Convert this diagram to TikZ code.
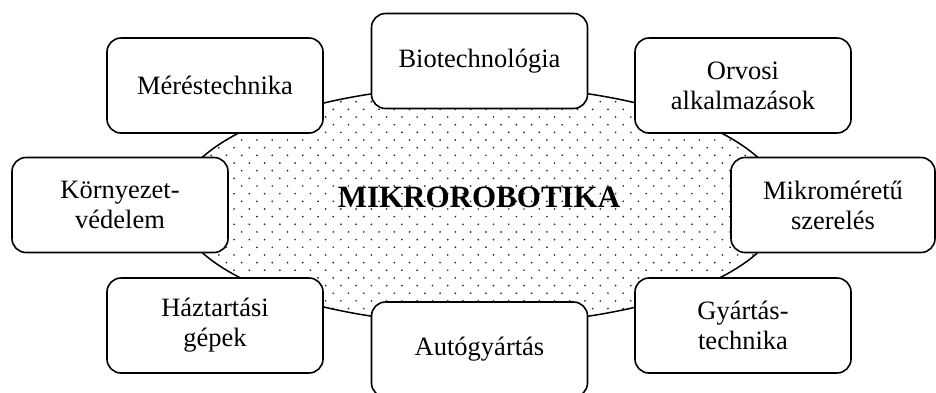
\documentclass[tikz,border=0pt]{standalone}
\usepackage{fontspec}
\setmainfont{Liberation Serif}
\usepackage{tikz}

\tikzset{
    field/.style={draw, line width=1.6pt, rounded corners=14pt, fill=white,
        minimum width=216pt, minimum height=95pt, align=center,
        font=\fontsize{26.5}{30}\selectfont},
}

\begin{document}
\begin{tikzpicture}[x=1pt,y=-1pt]
        \useasboundingbox (0,0) rectangle (936,392);
        % dotted core
        \begin{scope}
            \clip (480,205) ellipse (303 and 119);
            \foreach \j in {0,...,31} \foreach \i in {0,...,41}
                \fill[black!85] ({165.4+15.26*\i+7.63*(1-mod(\j,2))},{86.4+7.66*\j}) circle (0.95);
        \end{scope}
        \draw[line width=1.5pt] (480,205) ellipse (303 and 119);
        \node[font=\fontsize{31}{34}\selectfont\bfseries, anchor=base] (core) at (479,207) {MIKROROBOTIKA};
        % application fields
        \node[field] (meres) at (215,85.5) {Méréstechnika};
        \node[field] (bio) at (479.5,61) {Biotechnológia};
        \node[field] (orvos) at (743,85.5) {Orvosi\\alkalmazások};
        \node[field] (kornyezet) at (120,205) {Környezet-\\védelem};
        \node[field, minimum width=204pt] (szereles) at (833,205) {Mikroméretű\\szerelés};
        \node[field] (haztartas) at (215,325.5) {Háztartási\\gépek};
        \node[field] (auto) at (479.5,349.5) {Autógyártás};
        \node[field] (gyartas) at (743,325.5) {Gyártás-\\technika};
    \end{tikzpicture}
\end{document}
